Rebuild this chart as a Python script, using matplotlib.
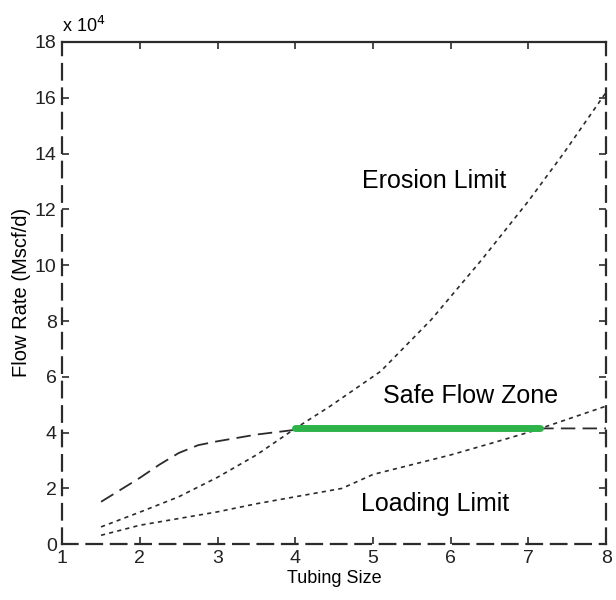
import numpy as np
import matplotlib as mpl
import matplotlib.pyplot as plt
from matplotlib.ticker import FuncFormatter

mpl.use("Agg")
plt.rcParams['font.family'] = ['Liberation Sans', 'DejaVu Sans']

# Curves (tubing size vs. flow rate, Mscf/d)
tubing_erosion = [1.5, 2.0, 2.5, 3.0, 3.5, 4.0, 4.45, 5.1, 5.75, 6.4, 7.0, 7.45, 8.0]
erosion_limit = [0.62e4, 1.15e4, 1.7e4, 2.4e4, 3.2e4, 4.15e4, 4.95e4, 6.2e4,
                 8.05e4, 10.2e4, 12.3e4, 14.0e4, 16.2e4]

tubing_loading = [1.5, 2.0, 2.5, 3.0, 3.5, 4.0, 4.6, 5.0, 5.5, 6.0, 6.5, 7.05, 8.0]
loading_limit = [0.32e4, 0.68e4, 0.92e4, 1.16e4, 1.45e4, 1.7e4, 2.0e4, 2.5e4,
                 2.85e4, 3.2e4, 3.6e4, 4.05e4, 4.95e4]

tubing_perf = [1.5, 1.75, 2.0, 2.25, 2.5, 2.75, 3.0, 3.5, 4.0, 5.0, 6.0, 7.0, 8.0]
perf_rate = [1.52e4, 1.95e4, 2.38e4, 2.85e4, 3.27e4, 3.55e4, 3.69e4, 3.93e4,
             4.1e4, 4.14e4, 4.15e4, 4.15e4, 4.15e4]

safe_zone_x = [4.0, 7.15]
safe_zone_y = [4.17e4, 4.17e4]

ink = "#2b2b2b"

fig = plt.figure(figsize=(6.16, 6.0), dpi=100)
ax = fig.add_axes([0.101, 0.093, 0.883, 0.837])

ax.plot(tubing_perf, perf_rate, color=ink, lw=1.3, ls=(0, (8, 4)))
ax.plot(tubing_erosion, erosion_limit, color=ink, lw=1.2, ls=(0, (2.5, 2.5)))
ax.plot(tubing_loading, loading_limit, color=ink, lw=1.2, ls=(0, (2.5, 2.5)))
ax.plot(safe_zone_x, safe_zone_y, color="#2db34a", lw=5, solid_capstyle="round")

ax.text(5.79, 13.0e4, "Erosion Limit", fontsize=18, ha="center", va="center")
ax.text(6.25, 5.3e4, "Safe Flow Zone", fontsize=18, ha="center", va="center")
ax.text(5.8, 1.45e4, "Loading Limit", fontsize=18, ha="center", va="center")

ax.set_xlim(1, 8)
ax.set_ylim(0, 18e4)
ax.set_xticks(np.arange(1, 9))
ax.set_yticks(np.arange(0, 19e4, 2e4))
ax.yaxis.set_major_formatter(FuncFormatter(lambda v, p: f"{v / 1e4:g}"))

for lab in ax.get_xticklabels() + ax.get_yticklabels():
    lab.set_fontsize(14)
    lab.set_color("#222222")

ax.tick_params(direction="in", length=5, width=1.2, color=ink,
               top=True, right=True, pad=4)

for side in ["left", "bottom", "right"]:
    ax.spines[side].set_linestyle((0, (7, 4)))
for side in ax.spines:
    ax.spines[side].set_color(ink)
    ax.spines[side].set_linewidth(1.6)

ax.set_xlabel("Tubing Size", fontsize=13, labelpad=2)
ax.set_ylabel("Flow Rate (Mscf/d)", fontsize=14.5)
ax.yaxis.set_label_coords(-0.058, 0.502)

ax.text(0.0, 1.012, r"x 10$^4$", transform=ax.transAxes, fontsize=13,
        ha="left", va="bottom")

fig.savefig("out.png", dpi=100)
